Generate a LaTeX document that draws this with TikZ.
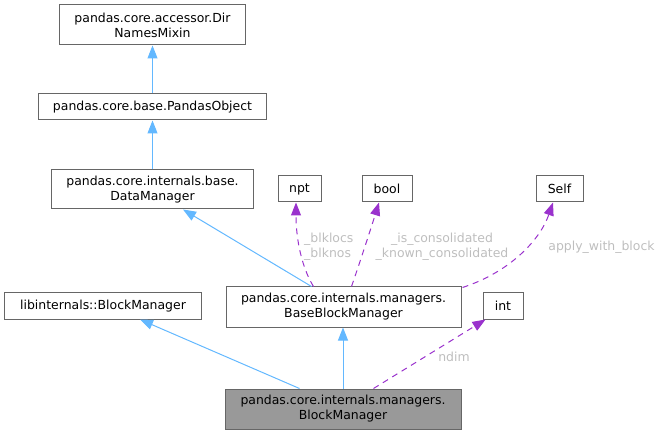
\documentclass[tikz,border=0pt]{standalone}
\usepackage{fontspec}
\setmainfont{DejaVu Sans}
\usetikzlibrary{arrows.meta,calc}
\definecolor{boxgray}{HTML}{666666}
\definecolor{bmfill}{HTML}{999999}
\definecolor{inhblue}{HTML}{63B8FF}
\definecolor{usepurple}{HTML}{9A32CD}
\definecolor{lblgray}{HTML}{BEBEBE}
\tikzset{
  cls/.style={draw=boxgray, fill=white, line width=1bp, inner sep=0pt, align=center,
    font=\fontsize{12.5}{15}\selectfont},
  inh/.style={draw=inhblue, line width=1bp, -{Triangle[length=13bp,width=10bp]}},
  use/.style={draw=usepurple, line width=1bp, dash pattern=on 6bp off 5bp,
    -{Triangle[length=13bp,width=10bp]}},
  lbl/.style={text=lblgray, inner sep=0pt, font=\fontsize{12.5}{15}\selectfont}
}
\begin{document}
\begin{tikzpicture}[x=1bp,y=-1bp]
\useasboundingbox (0,0) rectangle (665,435);
\node[cls, minimum width=185bp, minimum height=40bp] (dn) at (152.5,25) {pandas.core.accessor.Dir\\NamesMixin};
\node[cls, minimum width=228bp, minimum height=26bp] (po) at (152.5,107) {pandas.core.base.PandasObject};
\node[cls, minimum width=201bp, minimum height=39bp] (dm) at (152.5,189.5) {pandas.core.internals.base.\\DataManager};
\node[cls, minimum width=43bp, minimum height=26bp] (npt) at (299.5,189) {npt};
\node[cls, minimum width=50bp, minimum height=26bp] (bool) at (387,189) {bool};
\node[cls, minimum width=47bp, minimum height=26bp] (self) at (559.5,189) {Self};
\node[cls, minimum width=235bp, minimum height=40bp] (bbm) at (343.5,307) {pandas.core.internals.managers.\\BaseBlockManager};
\node[cls, minimum width=40bp, minimum height=26bp] (int) at (503,306) {int};
\node[cls, minimum width=196bp, minimum height=26bp] (lib) at (103,306) {libinternals::BlockManager};
\node[cls, fill=bmfill, minimum width=236bp, minimum height=40bp] (bm) at (343,409) {pandas.core.internals.managers.\\BlockManager};

% inheritance
\draw[inh] (po.north) -- (dn.south);
\draw[inh] (dm.north) -- (po.south);
\draw[inh] ($(bbm.north west)+(86,0)$) -- ($(dm.south)+(30.5,0)$);
\draw[inh] ($(bm.north west)+(75,0)$) -- ($(lib.south)+(37,0)$);
\draw[inh] (bm.north) -- (bbm.south -| bm.north);

% usage
\draw[use] ($(bbm.north west)+(88,0)$) .. controls (302,268) and (296,240) .. ($(npt.south)+(-3.5,0)$);
\draw[use] ($(bbm.north west)+(126,0)$) .. controls (360,262) and (372,225) .. ($(bool.south)+(-8,0)$);
\draw[use] ($(bbm.north east)+(1,1)$) .. controls (510,272) and (540,240) .. ($(self.south)+(-6.5,0)$);
\draw[use] ($(bm.north west)+(149,0)$) -- ($(int.south west)+(3,0)$);

% labels
\node[lbl, anchor=west, align=left] (l1) at (304,246.5) {\_blklocs\\\_blknos};
\node[lbl, align=center] (l2) at (442,246.5) {\_is\_consolidated\\\_known\_consolidated};
\node[lbl] (l3) at (601.5,247) {apply\_with\_block};
\node[lbl] (l4) at (454,357) {ndim};
\end{tikzpicture}
\end{document}
